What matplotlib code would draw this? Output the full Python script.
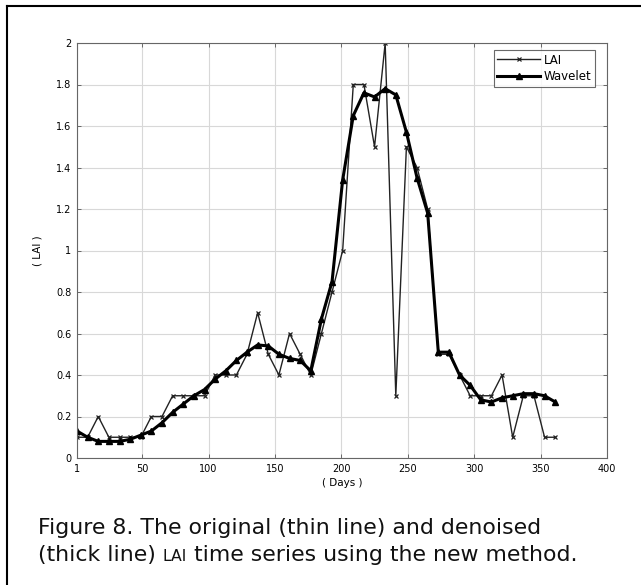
import numpy as np
import matplotlib
matplotlib.use('Agg')
import matplotlib.pyplot as plt
from matplotlib.lines import Line2D

# 8-day composite days
days = [1, 9, 17, 25, 33, 41, 49, 57, 65, 73, 81, 89, 97, 105, 113, 121,
        129, 137, 145, 153, 161, 169, 177, 185, 193, 201, 209, 217, 225,
        233, 241, 249, 257, 265, 273, 281, 289, 297, 305, 313, 321, 329,
        337, 345, 353, 361]

lai = [0.1, 0.1, 0.2, 0.1, 0.1, 0.1, 0.1, 0.2, 0.2, 0.3, 0.3, 0.3, 0.3,
       0.4, 0.4, 0.4, 0.5, 0.7, 0.5, 0.4, 0.6, 0.5, 0.4, 0.6, 0.8, 1.0,
       1.8, 1.8, 1.5, 2.0, 0.3, 1.5, 1.4, 1.2, 0.5, 0.5, 0.4, 0.3, 0.3,
       0.3, 0.4, 0.1, 0.3, 0.3, 0.1, 0.1]

wavelet = [0.13, 0.10, 0.08, 0.08, 0.08, 0.09, 0.11, 0.13, 0.17, 0.22,
           0.26, 0.30, 0.33, 0.38, 0.42, 0.47, 0.51, 0.545, 0.54, 0.50,
           0.48, 0.47, 0.42, 0.67, 0.85, 1.34, 1.65, 1.76, 1.74, 1.78,
           1.75, 1.57, 1.35, 1.18, 0.51, 0.51, 0.40, 0.35, 0.28, 0.27,
           0.29, 0.30, 0.31, 0.31, 0.30, 0.27]

xticks = [1, 50, 100, 150, 200, 250, 300, 350, 400]
yticks = [0, 0.2, 0.4, 0.6, 0.8, 1, 1.2, 1.4, 1.6, 1.8, 2]
ytick_labels = ['0', '0.2', '0.4', '0.6', '0.8', '1', '1.2', '1.4', '1.6', '1.8', '2']

W, H = 641, 585
fig = plt.figure(figsize=(W / 100, H / 100), dpi=100)
ax = fig.add_axes([77 / W, 1 - 458 / H, (607 - 77) / W, (458 - 43) / H])

ax.plot(days, lai, '-', color='#222222', linewidth=1.0, marker='x',
        markersize=3.5, markeredgewidth=0.9, label='LAI')
ax.plot(days, wavelet, '-', color='black', linewidth=2.2, marker='^',
        markersize=4.5, label='Wavelet')

ax.set_xlim(1, 400)
ax.set_ylim(0, 2)
ax.set_xticks(xticks)
ax.set_xticklabels([str(t) for t in xticks])
ax.set_yticks(yticks)
ax.set_yticklabels(ytick_labels)
ax.tick_params(direction='in', length=3, width=0.6, labelsize=7,
               top=True, right=True, color='#555555', pad=4)
ax.grid(True, color='#d8d8d8', linewidth=0.8, linestyle='-')
for s in ax.spines.values():
    s.set_color('#666666')
    s.set_linewidth(0.8)

ax.set_xlabel('( Days )', fontsize=7.5, labelpad=3)
ax.set_ylabel('( LAI )', fontsize=7.5, labelpad=10)

leg = ax.legend(loc='upper right', bbox_to_anchor=(0.977, 0.983),
                fontsize=8.5, frameon=True, fancybox=False,
                borderpad=0.3, handlelength=3.6, labelspacing=0.3,
                borderaxespad=0, handletextpad=0.3)
leg.get_frame().set_edgecolor('#444444')
leg.get_frame().set_linewidth(0.8)

# frame around the figure (left and top)
fig.add_artist(Line2D([7 / W, 7 / W], [0, 1 - 6 / H], color='black', linewidth=1.5))
fig.add_artist(Line2D([7 / W, 1], [1 - 6 / H, 1 - 6 / H], color='black', linewidth=1.5))

# caption
cap_size = 15.8
fig.text(38 / W, 1 - 534 / H, 'Figure 8. The original (thin line) and denoised',
         fontsize=cap_size, color='#111111', va='baseline', ha='left')
t1 = fig.text(38 / W, 1 - 561 / H, '(thick line) ', fontsize=cap_size,
              color='#111111', va='baseline', ha='left')
fig.canvas.draw()
r = fig.canvas.get_renderer()
bb = t1.get_window_extent(r)
t2 = fig.text(bb.x1 / W, 1 - 561 / H, 'LAI', fontsize=cap_size * 0.72,
              color='#111111', va='baseline', ha='left')
bb2 = t2.get_window_extent(r)
fig.text(bb2.x1 / W, 1 - 561 / H, ' time series using the new method.',
         fontsize=cap_size, color='#111111', va='baseline', ha='left')

fig.savefig('out.png', dpi=100)
